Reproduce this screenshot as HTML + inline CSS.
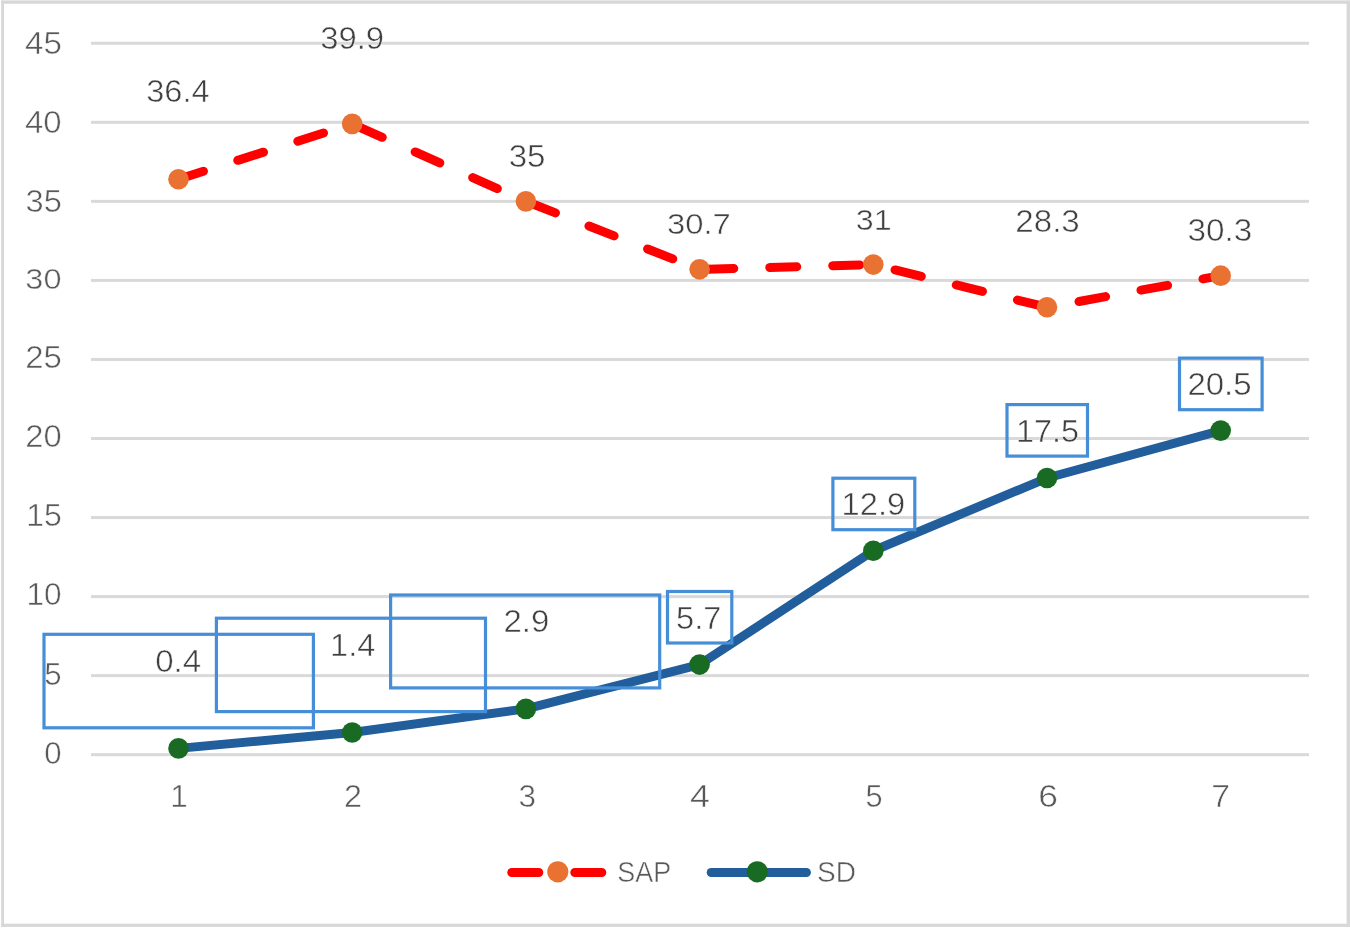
<!DOCTYPE html>
<html><head><meta charset="utf-8"><title>Chart</title>
<style>html,body{margin:0;padding:0;background:#fff;width:1350px;height:928px;overflow:hidden}svg{display:block;will-change:transform}text{font-family:"Liberation Sans",sans-serif}</style>
</head><body>
<svg width="1350" height="928" viewBox="0 0 1350 928" font-family="Liberation Sans, sans-serif">
<rect x="0" y="0" width="1350" height="928" fill="#fff"/>
<rect x="1.2" y="0.8" width="2.8" height="926.2" fill="#d8d8d8"/>
<rect x="1.2" y="0.4" width="1348.8" height="3.4" fill="#d8d8d8"/>
<rect x="1346.6" y="0.8" width="3.4" height="926.2" fill="#d8d8d8"/>
<rect x="1.2" y="923.7" width="1348.8" height="3.2" fill="#d8d8d8"/>
<rect x="91" y="753.20" width="1218" height="3" fill="#d9d9d9"/>
<rect x="91" y="674.15" width="1218" height="3" fill="#d9d9d9"/>
<rect x="91" y="595.10" width="1218" height="3" fill="#d9d9d9"/>
<rect x="91" y="516.05" width="1218" height="3" fill="#d9d9d9"/>
<rect x="91" y="437.00" width="1218" height="3" fill="#d9d9d9"/>
<rect x="91" y="357.95" width="1218" height="3" fill="#d9d9d9"/>
<rect x="91" y="278.90" width="1218" height="3" fill="#d9d9d9"/>
<rect x="91" y="199.85" width="1218" height="3" fill="#d9d9d9"/>
<rect x="91" y="120.80" width="1218" height="3" fill="#d9d9d9"/>
<rect x="91" y="41.75" width="1218" height="3" fill="#d9d9d9"/>
<text transform="translate(44.20,763.54) scale(1.0056,1)" font-size="30.99" fill="#595959" stroke="#fff" stroke-width="0.5">0</text>
<text transform="translate(44.20,684.54) scale(0.9914,1)" font-size="31.43" fill="#595959" stroke="#fff" stroke-width="0.5">5</text>
<text transform="translate(26.48,605.14) scale(1.0339,1)" font-size="30.56" fill="#595959" stroke="#fff" stroke-width="0.5">10</text>
<text transform="translate(26.25,526.24) scale(1.0262,1)" font-size="31.14" fill="#595959" stroke="#fff" stroke-width="0.5">15</text>
<text transform="translate(25.21,447.14) scale(1.0725,1)" font-size="30.56" fill="#595959" stroke="#fff" stroke-width="0.5">20</text>
<text transform="translate(25.20,368.04) scale(1.0778,1)" font-size="30.56" fill="#595959" stroke="#fff" stroke-width="0.5">25</text>
<text transform="translate(25.35,289.05) scale(1.0671,1)" font-size="30.42" fill="#595959" stroke="#fff" stroke-width="0.5">30</text>
<text transform="translate(25.55,211.84) scale(1.0673,1)" font-size="30.56" fill="#595959" stroke="#fff" stroke-width="0.5">35</text>
<text transform="translate(25.03,132.64) scale(1.0782,1)" font-size="30.56" fill="#595959" stroke="#fff" stroke-width="0.5">40</text>
<text transform="translate(25.02,53.64) scale(1.0583,1)" font-size="31.29" fill="#595959" stroke="#fff" stroke-width="0.5">45</text>
<text transform="translate(170.30,806.95) scale(0.9937,1)" font-size="31.59" fill="#595959" stroke="#fff" stroke-width="0.5">1</text>
<text transform="translate(343.93,806.85) scale(1.0374,1)" font-size="31.14" fill="#595959" stroke="#fff" stroke-width="0.5">2</text>
<text transform="translate(518.39,806.54) scale(1.0256,1)" font-size="30.70" fill="#595959" stroke="#fff" stroke-width="0.5">3</text>
<text transform="translate(690.06,806.85) scale(1.1331,1)" font-size="31.59" fill="#595959" stroke="#fff" stroke-width="0.5">4</text>
<text transform="translate(865.42,806.54) scale(0.9870,1)" font-size="31.14" fill="#595959" stroke="#fff" stroke-width="0.5">5</text>
<text transform="translate(1038.18,807.13) scale(1.1182,1)" font-size="31.69" fill="#595959" stroke="#fff" stroke-width="0.5">6</text>
<text transform="translate(1211.36,806.95) scale(1.0713,1)" font-size="31.59" fill="#595959" stroke="#fff" stroke-width="0.5">7</text>
<polyline points="178.50,179.22 352.20,123.88 525.90,201.35 699.60,269.33 873.30,264.59 1047.00,307.28 1220.70,275.66" fill="none" stroke="#ff0000" stroke-width="9" stroke-linecap="round" stroke-linejoin="round" stroke-dasharray="27 36" stroke-dashoffset="0.8"/>
<circle cx="178.50" cy="179.22" r="10.3" fill="#e97132"/>
<circle cx="352.20" cy="123.88" r="10.3" fill="#e97132"/>
<circle cx="525.90" cy="201.35" r="10.3" fill="#e97132"/>
<circle cx="699.60" cy="269.33" r="10.3" fill="#e97132"/>
<circle cx="873.30" cy="264.59" r="10.3" fill="#e97132"/>
<circle cx="1047.00" cy="307.28" r="10.3" fill="#e97132"/>
<circle cx="1220.70" cy="275.66" r="10.3" fill="#e97132"/>
<polyline points="178.50,748.38 352.20,732.57 525.90,708.85 699.60,664.58 873.30,550.75 1047.00,478.03 1220.70,430.60" fill="none" stroke="#215e9b" stroke-width="9" stroke-linecap="round" stroke-linejoin="round"/>
<circle cx="178.50" cy="748.38" r="10.3" fill="#196b24"/>
<circle cx="352.20" cy="732.57" r="10.3" fill="#196b24"/>
<circle cx="525.90" cy="708.85" r="10.3" fill="#196b24"/>
<circle cx="699.60" cy="664.58" r="10.3" fill="#196b24"/>
<circle cx="873.30" cy="550.75" r="10.3" fill="#196b24"/>
<circle cx="1047.00" cy="478.03" r="10.3" fill="#196b24"/>
<circle cx="1220.70" cy="430.60" r="10.3" fill="#196b24"/>
<text transform="translate(146.15,102.24) scale(1.0662,1)" font-size="30.56" fill="#404040" stroke="#fff" stroke-width="0.5">36.4</text>
<text transform="translate(320.14,48.84) scale(1.0748,1)" font-size="30.56" fill="#404040" stroke="#fff" stroke-width="0.5">39.9</text>
<text transform="translate(508.63,167.14) scale(1.0684,1)" font-size="30.99" fill="#404040" stroke="#fff" stroke-width="0.5">35</text>
<text transform="translate(666.94,233.55) scale(1.0892,1)" font-size="30.14" fill="#404040" stroke="#fff" stroke-width="0.5">30.7</text>
<text transform="translate(855.76,229.65) scale(1.0682,1)" font-size="30.14" fill="#404040" stroke="#fff" stroke-width="0.5">31</text>
<text transform="translate(1015.29,231.84) scale(1.0742,1)" font-size="30.85" fill="#404040" stroke="#fff" stroke-width="0.5">28.3</text>
<text transform="translate(1187.42,240.74) scale(1.0740,1)" font-size="30.99" fill="#404040" stroke="#fff" stroke-width="0.5">30.3</text>
<rect x="44" y="634.3" width="269.40" height="93.50" fill="none" stroke="#468fd8" stroke-width="3.2"/>
<rect x="216.4" y="618.2" width="269.10" height="93.40" fill="none" stroke="#468fd8" stroke-width="3.2"/>
<rect x="390.6" y="595" width="269.10" height="92.90" fill="none" stroke="#468fd8" stroke-width="3.2"/>
<rect x="667.5" y="591.5" width="64.30" height="51.50" fill="none" stroke="#468fd8" stroke-width="3.2"/>
<rect x="832.9" y="478.2" width="81.90" height="51.50" fill="none" stroke="#468fd8" stroke-width="3.2"/>
<rect x="1007" y="404.6" width="80.50" height="51.50" fill="none" stroke="#468fd8" stroke-width="3.2"/>
<rect x="1179.5" y="358.1" width="82.60" height="51.60" fill="none" stroke="#468fd8" stroke-width="3.2"/>
<text transform="translate(155.23,672.04) scale(1.0758,1)" font-size="30.70" fill="#404040" stroke="#fff" stroke-width="0.5">0.4</text>
<text transform="translate(330.12,655.85) scale(1.0319,1)" font-size="31.45" fill="#404040" stroke="#fff" stroke-width="0.5">1.4</text>
<text transform="translate(503.40,632.44) scale(1.0706,1)" font-size="30.85" fill="#404040" stroke="#fff" stroke-width="0.5">2.9</text>
<text transform="translate(676.05,629.03) scale(1.0238,1)" font-size="31.86" fill="#404040" stroke="#fff" stroke-width="0.5">5.7</text>
<text transform="translate(841.60,515.44) scale(1.0636,1)" font-size="30.70" fill="#404040" stroke="#fff" stroke-width="0.5">12.9</text>
<text transform="translate(1015.92,442.13) scale(1.0247,1)" font-size="31.57" fill="#404040" stroke="#fff" stroke-width="0.5">17.5</text>
<text transform="translate(1187.40,395.44) scale(1.0647,1)" font-size="30.99" fill="#404040" stroke="#fff" stroke-width="0.5">20.5</text>
<line x1="511.8" y1="872.5" x2="602" y2="872.5" stroke="#ff0000" stroke-width="9" stroke-linecap="round" stroke-dasharray="27 36"/>
<circle cx="557.8" cy="871.8" r="10.6" fill="#e97132"/>
<line x1="711.2" y1="872.5" x2="806.4" y2="872.5" stroke="#215e9b" stroke-width="9" stroke-linecap="round"/>
<circle cx="757.3" cy="871.8" r="10.6" fill="#196b24"/>
<text transform="translate(617.34,881.85) scale(0.9087,1)" font-size="29.58" fill="#595959" stroke="#fff" stroke-width="0.5">SAP</text>
<text transform="translate(816.99,881.85) scale(0.9477,1)" font-size="29.58" fill="#595959" stroke="#fff" stroke-width="0.5">SD</text>
</svg>
</body></html>
